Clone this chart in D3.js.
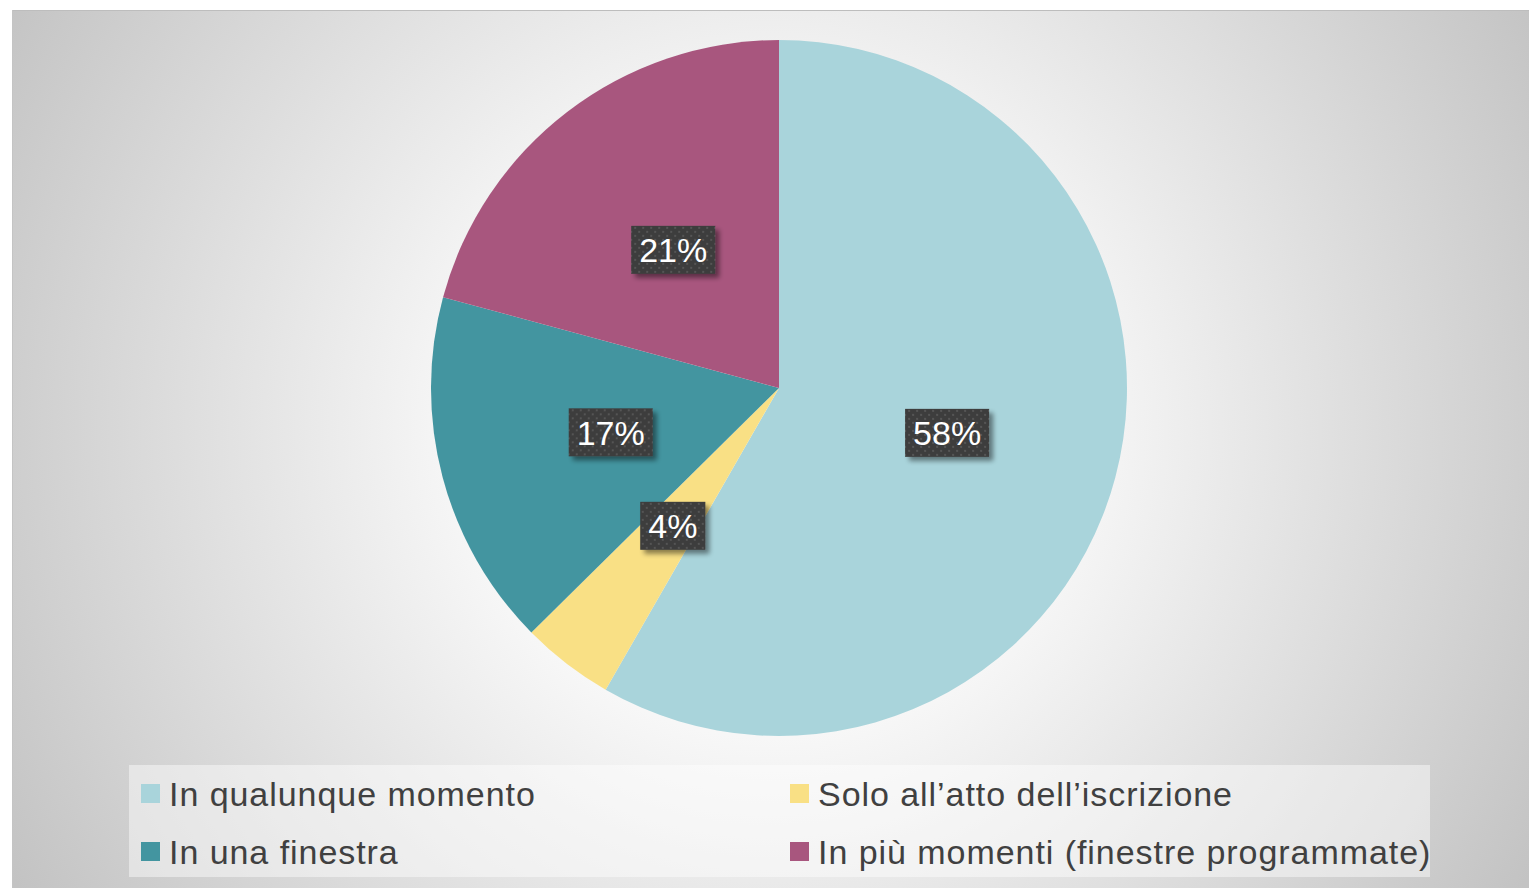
<!DOCTYPE html>
<html>
<head>
<meta charset="utf-8">
<script src="https://cdn.jsdelivr.net/npm/d3@7"></script>
<style>
  html, body { margin: 0; padding: 0; background: #fff; }
  svg { display: block; }
</style>
</head>
<body>
<div id="chart"></div>
<script>
// data
var categories = ["In qualunque momento", "Solo all\u2019atto dell\u2019iscrizione", "In una finestra", "In pi\u00f9 momenti (finestre programmate)"];
var values = [58.3, 4.3, 16.6, 20.8];
var colors = ["#a9d4db", "#f9e085", "#4395a0", "#a8567e"];
// legend as shown (row by row, two columns)
var legendItems = ["In qualunque momento", "Solo all\u2019atto dell\u2019iscrizione", "In una finestra", "In pi\u00f9 momenti (finestre programmate)"];
var legendColors = ["#a9d4db", "#f9e085", "#4395a0", "#a8567e"];

var W = 1529, H = 888;
var svg = d3.select("#chart").append("svg").attr("width", W).attr("height", H);
var defs = svg.append("defs");

var bg = defs.append("radialGradient").attr("id", "bgGrad")
    .attr("gradientUnits", "userSpaceOnUse")
    .attr("cx", 770).attr("cy", 430).attr("r", 880);
bg.append("stop").attr("offset", "0").attr("stop-color", "#ffffff");
bg.append("stop").attr("offset", "0.35").attr("stop-color", "#f7f7f7");
bg.append("stop").attr("offset", "1").attr("stop-color", "#c3c3c3");

var pat = defs.append("pattern").attr("id", "dots")
    .attr("patternUnits", "userSpaceOnUse").attr("width", 8).attr("height", 8);
pat.append("rect").attr("width", 8).attr("height", 8).attr("fill", "#3d3d3d");
pat.append("rect").attr("x", 1).attr("y", 1).attr("width", 2).attr("height", 2).attr("fill", "#555");
pat.append("rect").attr("x", 5).attr("y", 5).attr("width", 2).attr("height", 2).attr("fill", "#555");

var shadow = defs.append("filter").attr("id", "shadow")
    .attr("x", "-20%").attr("y", "-20%").attr("width", "150%").attr("height", "160%");
shadow.append("feGaussianBlur").attr("in", "SourceAlpha").attr("stdDeviation", 2.5);
shadow.append("feOffset").attr("dx", 4).attr("dy", 4).attr("result", "ob");
shadow.append("feComponentTransfer").append("feFuncA").attr("type", "linear").attr("slope", 0.45);
var merge = shadow.append("feMerge");
merge.append("feMergeNode");
merge.append("feMergeNode").attr("in", "SourceGraphic");

// panel
svg.append("rect").attr("x", 12).attr("y", 10).attr("width", W - 12).attr("height", H - 10)
    .attr("fill", "url(#bgGrad)");
svg.append("line").attr("x1", 12).attr("x2", W).attr("y1", 10.5).attr("y2", 10.5)
    .attr("stroke", "#bdbdbd").attr("stroke-width", 1);
svg.append("line").attr("x1", 12.5).attr("x2", 12.5).attr("y1", 10).attr("y2", H)
    .attr("stroke", "#c4c4c4").attr("stroke-width", 1);

// pie
var cx = 779, cy = 388, R = 348;
var pie = d3.pie().sort(null).value(function (d) { return d; });
var arc = d3.arc().innerRadius(0).outerRadius(R);
var labelArc = d3.arc().innerRadius(R * 0.5).outerRadius(R * 0.5);
var arcs = pie(values);

var g = svg.append("g").attr("transform", "translate(" + cx + "," + cy + ")");
g.selectAll("path.slice").data(arcs).enter().append("path")
    .attr("class", "slice")
    .attr("d", arc)
    .attr("fill", function (d, i) { return colors[i]; });

var labels = g.selectAll("g.lbl").data(arcs).enter().append("g")
    .attr("class", "lbl")
    .attr("transform", function (d) { var c = labelArc.centroid(d); return "translate(" + c[0] + "," + c[1] + ")"; });

labels.each(function (d) {
    var el = d3.select(this);
    var txt = Math.round(d.value) + "%";
    var t = el.append("text")
        .attr("text-anchor", "middle")
        .attr("dy", "0.36em")
        .attr("fill", "#ffffff")
        .style("font-family", "'Liberation Sans', Arial, sans-serif")
        .style("font-size", "34px")
        .text(txt);
    var w = t.node().getComputedTextLength() + 16;
    var h = 48;
    el.insert("rect", "text")
        .attr("x", -w / 2).attr("y", -h / 2)
        .attr("width", w).attr("height", h)
        .attr("fill", "url(#dots)")
        .attr("filter", "url(#shadow)");
});

// legend
svg.append("rect").attr("x", 129).attr("y", 765).attr("width", 1301).attr("height", 112)
    .attr("fill", "#ffffff").attr("fill-opacity", 0.45);

var colX = [141, 790], rowY = [794, 852];
var leg = svg.selectAll("g.leg").data(legendItems).enter().append("g")
    .attr("class", "leg")
    .attr("transform", function (d, i) { return "translate(" + colX[i % 2] + "," + rowY[Math.floor(i / 2)] + ")"; });
leg.append("rect").attr("x", 0).attr("y", -10).attr("width", 19).attr("height", 19)
    .attr("fill", function (d, i) { return legendColors[i]; });
leg.append("text").attr("x", 28).attr("dy", "0.35em")
    .attr("fill", "#404040")
    .style("font-family", "'Liberation Sans', Arial, sans-serif")
    .style("font-size", "34px")
    .style("letter-spacing", "0.95px")
    .text(function (d) { return d; });
</script>
</body>
</html>
